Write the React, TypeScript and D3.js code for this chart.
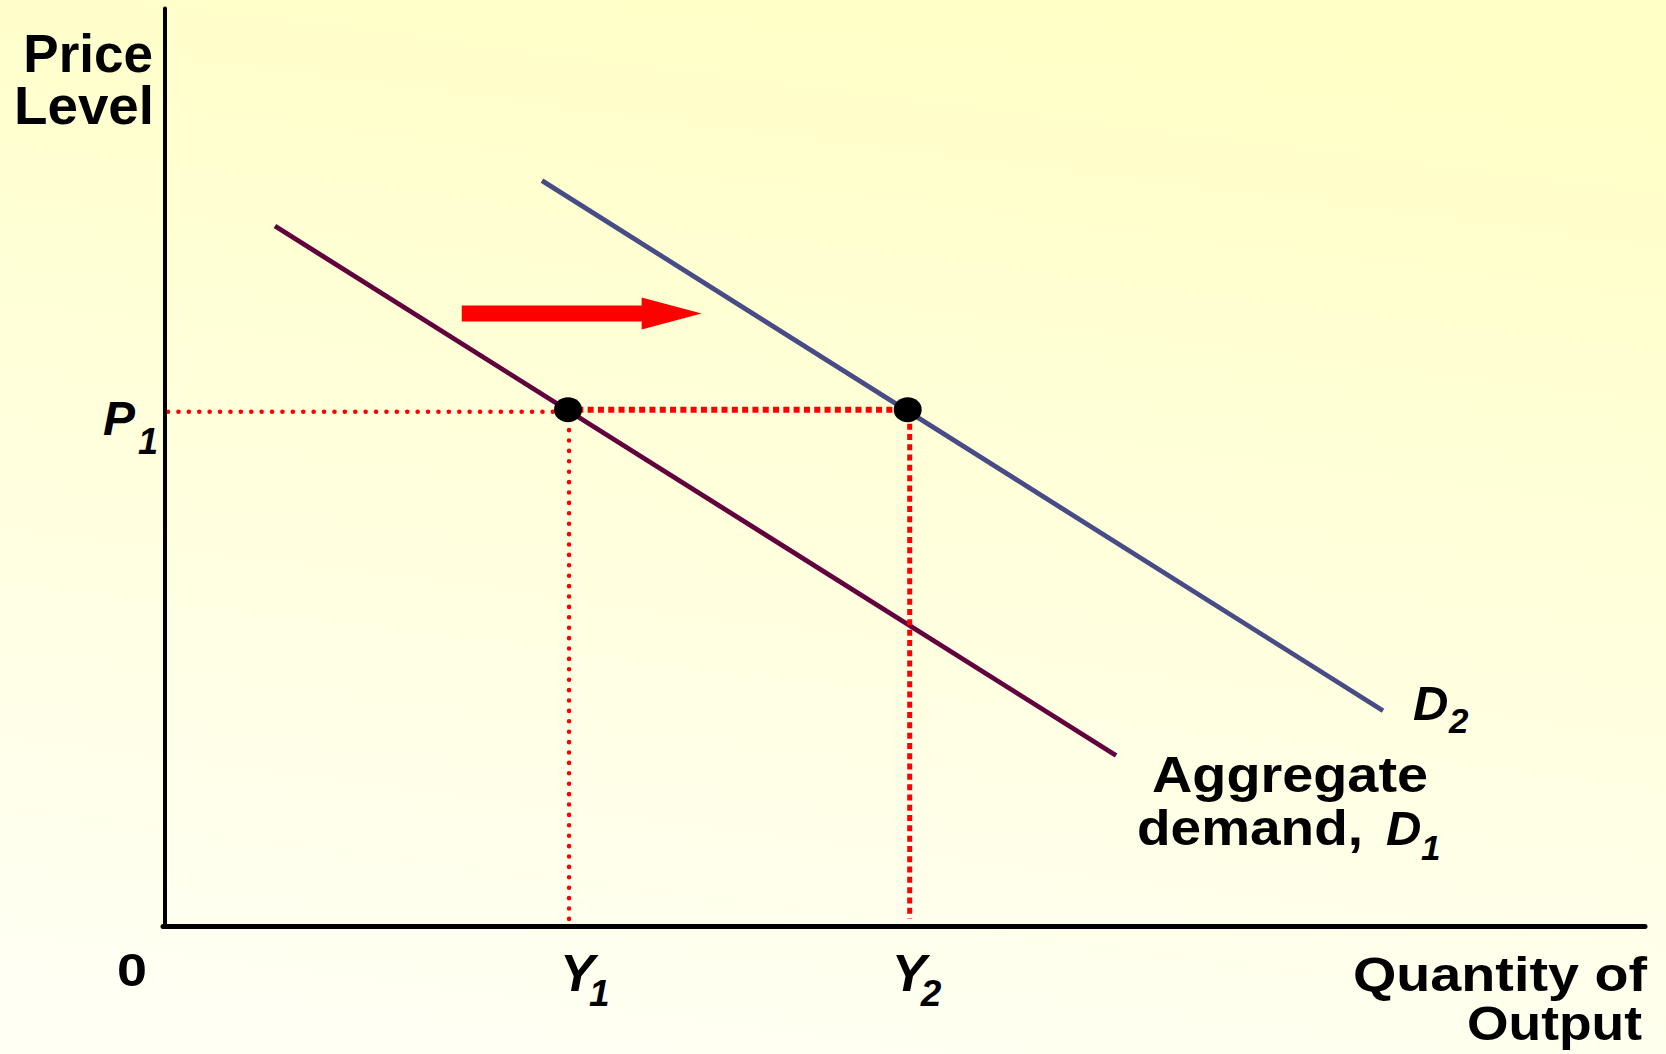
import React from "react";
import * as d3 from "d3";

// chart values (abstract units, 0..100 on both axes)
const curveNames = ["D1", "D2"];
const curveColors = ["#62003e", "#474c86"];
const curveStartQ = [7.43, 25.47];
const curveStartP = [76.3, 81.25];
const curveEndQ = [64.26, 82.3];
const curveEndP = [18.63, 23.5];
const outputLevels = [27.3, 50.25]; // Y1, Y2
const outputLabels = ["1", "2"];
const priceLevel = 56.3; // P1
const shiftArrowQ = [20.05, 36.26];
const shiftArrowP = 66.78;

const W = 1666;
const H = 1054;

const App = () => {
  const x = d3.scaleLinear().domain([0, 100]).range([165, 1645]);
  const y = d3.scaleLinear().domain([0, 100]).range([926.5, 8.5]);

  const line = d3
    .line<[number, number]>()
    .x((d) => x(d[0]))
    .y((d) => y(d[1]));

  const bold = { fontFamily: "'Liberation Sans', Arial, sans-serif", fontWeight: 700 };
  const italic = { ...bold, fontStyle: "italic" };

  // arrow path
  const ax0 = x(shiftArrowQ[0]);
  const ax1 = x(shiftArrowQ[1]);
  const ay = y(shiftArrowP);
  const headLen = 60;
  const arrowPath = d3.path();
  arrowPath.moveTo(ax0, ay - 8);
  arrowPath.lineTo(ax1 - headLen, ay - 8);
  arrowPath.lineTo(ax1 - headLen, ay - 16);
  arrowPath.lineTo(ax1, ay);
  arrowPath.lineTo(ax1 - headLen, ay + 16);
  arrowPath.lineTo(ax1 - headLen, ay + 8);
  arrowPath.lineTo(ax0, ay + 8);
  arrowPath.closePath();

  const py = y(priceLevel);
  const labelShift = [-9, -17];

  return (
    <svg
      width={W}
      height={H}
      style={{ position: "absolute", left: 0, top: 0 }}
    >
      <defs>
        <linearGradient id="bg" x1="0.6" y1="0" x2="0.4" y2="1">
          <stop offset="0" stopColor="#ffffc6" />
          <stop offset="1" stopColor="#fffff3" />
        </linearGradient>
      </defs>
      <rect x={0} y={0} width={W} height={H} fill="url(#bg)" />

      {/* demand curves */}
      {curveNames.map((n, i) => (
        <path
          key={n}
          d={line([
            [curveStartQ[i], curveStartP[i]],
            [curveEndQ[i], curveEndP[i]],
          ]) as string}
          stroke={curveColors[i]}
          strokeWidth={4.8}
          fill="none"
        />
      ))}

      {/* guide lines */}
      <line
        x1={x(0) + 3}
        x2={x(outputLevels[0])}
        y1={py + 2}
        y2={py + 2}
        stroke="#ff0000"
        strokeWidth={4.5}
        strokeDasharray="0.1 10.3"
        strokeLinecap="round"
      />
      <line
        x1={x(outputLevels[0])}
        x2={x(outputLevels[0])}
        y1={py + 10}
        y2={y(0) - 4}
        stroke="#ff0000"
        strokeWidth={4.5}
        strokeDasharray="0.1 10.3"
        strokeLinecap="round"
      />
      <line
        x1={x(outputLevels[0]) - 2}
        x2={x(outputLevels[1])}
        y1={py}
        y2={py}
        stroke="#ff0000"
        strokeWidth={6}
        strokeDasharray="6 4.3"
      />
      <line
        x1={x(outputLevels[1]) + 1}
        x2={x(outputLevels[1]) + 1}
        y1={py + 14}
        y2={y(0) - 8}
        stroke="#ff0000"
        strokeWidth={5}
        strokeDasharray="6 4.3"
      />

      {/* shift arrow */}
      <path d={arrowPath.toString()} fill="#ff0000" />

      {/* equilibrium points */}
      {outputLevels.map((q) => (
        <ellipse key={q} cx={x(q) - 1} cy={py} rx={14} ry={12.5} fill="#000" />
      ))}

      {/* axes */}
      <line x1={x(0)} x2={x(0)} y1={y(100)} y2={y(0)} stroke="#000" strokeWidth={4} strokeLinecap="round" />
      <line x1={x(0) - 2} x2={x(100)} y1={y(0)} y2={y(0)} stroke="#000" strokeWidth={5} strokeLinecap="round" />

      {/* axis titles */}
      <text x={153} y={72} textAnchor="end" fontSize={53} style={bold}>Price</text>
      <text x={154} y={124} textAnchor="end" fontSize={53} textLength={140} lengthAdjust="spacingAndGlyphs" style={bold}>Level</text>
      <text x={1353} y={991} fontSize={49} textLength={294} lengthAdjust="spacingAndGlyphs" style={bold}>Quantity of</text>
      <text x={1467} y={1040} fontSize={49} textLength={175} lengthAdjust="spacingAndGlyphs" style={bold}>Output</text>
      <text x={132} y={986} textAnchor="middle" fontSize={46} textLength={30} lengthAdjust="spacingAndGlyphs" style={bold}>0</text>

      {/* P1 */}
      <text x={103} y={py + 25} style={italic}>
        <tspan fontSize={48}>P</tspan>
        <tspan fontSize={36} x={138} dy={19}>1</tspan>
      </text>

      {/* Y1, Y2 */}
      {outputLabels.map((s, i) => (
        <text key={"yl" + s} x={x(outputLevels[i]) + labelShift[i]} y={991} style={italic}>
          <tspan fontSize={52}>Y</tspan>
          <tspan fontSize={37} x={x(outputLevels[i]) + labelShift[i] + 29} dy={15}>{s}</tspan>
        </text>
      ))}

      {/* curve labels */}
      <text x={x(curveEndQ[1]) + 30} y={y(curveEndP[1]) + 9} style={italic}>
        <tspan fontSize={49}>D</tspan>
        <tspan fontSize={35} x={x(curveEndQ[1]) + 66} dy={13}>2</tspan>
      </text>

      <text x={1152} y={792} fontSize={50} textLength={276} lengthAdjust="spacingAndGlyphs" style={bold}>Aggregate</text>
      <text x={1137} y={845} fontSize={50} textLength={226} lengthAdjust="spacingAndGlyphs" style={bold}>demand,</text>
      <text x={1386} y={845} style={italic}>
        <tspan fontSize={49}>D</tspan>
        <tspan fontSize={35} x={1421} dy={15}>1</tspan>
      </text>
    </svg>
  );
};

export default App;
